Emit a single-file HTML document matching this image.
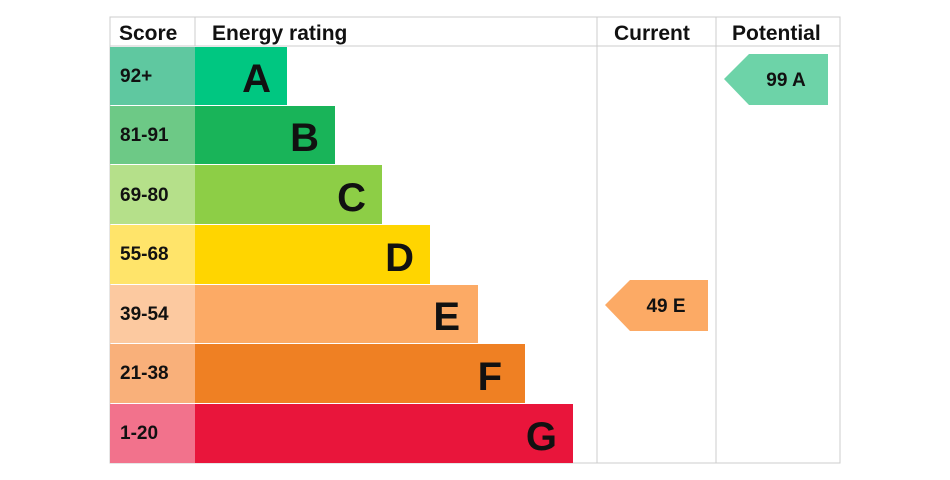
<!DOCTYPE html>
<html><head><style>
body{margin:0;background:#fff;width:950px;height:480px;overflow:hidden;font-family:"Liberation Sans",Arial,sans-serif}
svg{position:absolute;left:0;top:0}
</style></head><body>
<svg width="950" height="480" xmlns="http://www.w3.org/2000/svg" font-family="Liberation Sans, Arial, sans-serif" font-weight="bold">
<rect x="110" y="17" width="730" height="446" fill="#fff" stroke="#ccc"/>
<line x1="110" y1="46" x2="840" y2="46" stroke="#ccc"/>
<line x1="195" y1="17" x2="195" y2="46" stroke="#ccc"/>
<line x1="597" y1="17" x2="597" y2="463" stroke="#ccc"/>
<line x1="716" y1="17" x2="716" y2="463" stroke="#ccc"/>
<text x="119" y="40" font-size="21" fill="#111">Score</text>
<text x="212" y="40" font-size="21" fill="#111">Energy rating</text>
<text x="614" y="40" font-size="21" fill="#111">Current</text>
<text x="732" y="40" font-size="21" fill="#111">Potential</text>
<g font-size="19" fill="#111">
<rect x="110" y="47" width="85" height="58" fill="#5fc8a0"/><rect x="195" y="47" width="92" height="58" fill="#00c781"/>
<text x="120" y="82">92+</text><text x="271" y="92" font-size="40" text-anchor="end">A</text>
<rect x="110" y="106" width="85" height="58" fill="#6dc986"/><rect x="195" y="106" width="140" height="58" fill="#19b459"/>
<text x="120" y="141">81-91</text><text x="319" y="151" font-size="40" text-anchor="end">B</text>
<rect x="110" y="165" width="85" height="59" fill="#b5e08a"/><rect x="195" y="165" width="187" height="59" fill="#8dce46"/>
<text x="120" y="201">69-80</text><text x="366" y="211" font-size="40" text-anchor="end">C</text>
<rect x="110" y="225" width="85" height="59" fill="#ffe46a"/><rect x="195" y="225" width="235" height="59" fill="#ffd500"/>
<text x="120" y="260">55-68</text><text x="414" y="271" font-size="40" text-anchor="end">D</text>
<rect x="110" y="285" width="85" height="58" fill="#fcc9a0"/><rect x="195" y="285" width="283" height="58" fill="#fcaa65"/>
<text x="120" y="320">39-54</text><text x="460" y="330" font-size="40" text-anchor="end">E</text>
<rect x="110" y="344" width="85" height="59" fill="#f9b07a"/><rect x="195" y="344" width="330" height="59" fill="#ef8023"/>
<text x="120" y="379">21-38</text><text x="502" y="390" font-size="40" text-anchor="end">F</text>
<rect x="110" y="404" width="85" height="59" fill="#f2728c"/><rect x="195" y="404" width="378" height="59" fill="#e9153b"/>
<text x="120" y="439">1-20</text><text x="557" y="450" font-size="40" text-anchor="end">G</text>
</g>
<polygon points="724,79 749,54 828,54 828,105 749,105" fill="#6dd3a8"/>
<text x="786" y="86" font-size="19" text-anchor="middle" fill="#111">99 A</text>
<polygon points="605,305 630,280 708,280 708,331 630,331" fill="#fcaa65"/>
<text x="666" y="312" font-size="19" text-anchor="middle" fill="#111">49 E</text>
</svg>
</body></html>
